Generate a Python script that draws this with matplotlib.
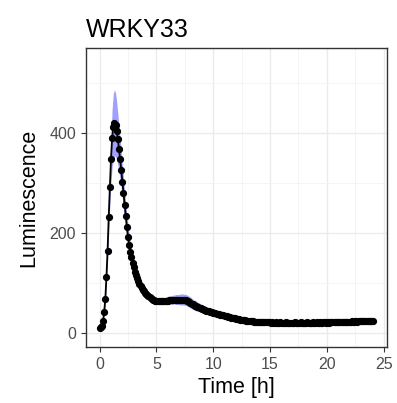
import numpy as np
import matplotlib.pyplot as plt
from matplotlib.ticker import MultipleLocator

plt.rcParams['font.family'] = ['Liberation Sans', 'DejaVu Sans']

# time grid: one reading every 0.1 h, 0 .. 24.1 h
time_h = np.round(np.arange(0, 242) * 0.1, 1)

# mean luminescence (one value per 0.1 h)
lum_mean = [
    11, 12, 15, 24, 42, 68, 112, 165, 232, 292,            # 0.0 - 0.9
    348, 390, 412, 420, 417, 405, 388, 369, 348, 327,      # 1.0 - 1.9
    303, 280, 257, 234, 212, 192, 176, 163, 152, 141,      # 2.0 - 2.9
    132, 123, 116, 110, 104, 99, 95, 91, 87, 84,           # 3.0 - 3.9
    81, 78, 76, 74, 72, 70, 68, 67, 66, 65,                # 4.0 - 4.9
    65, 64, 64, 64, 64, 64, 64, 64, 65, 65,                # 5.0 - 5.9
    65, 66, 66, 66, 66, 67, 67, 67, 67, 67,                # 6.0 - 6.9
    67, 67, 67, 67, 67, 66, 66, 65, 64, 62,                # 7.0 - 7.9
    61, 59, 58, 56, 55, 54, 53, 52, 51, 50,                # 8.0 - 8.9
    49, 48, 47, 46, 45, 44, 44, 43, 42, 42,                # 9.0 - 9.9
    41, 40, 40, 39, 38, 38, 37, 37, 36, 36,                # 10.0 - 10.9
    35, 34, 34, 33, 33, 32, 31, 31, 30, 30,                # 11.0 - 11.9
    29, 29, 28, 28, 27, 27, 26, 26, 26, 25,                # 12.0 - 12.9
    25, 25, 24, 24, 24, 24, 23, 23, 23, 23,                # 13.0 - 13.9
    23, 23, 22, 22, 23, 22, 22, 22, 22, 22,                # 14.0 - 14.9
    22, 21, 22, 21, 21, 22, 21, 21, 21, 22,                # 15.0 - 15.9
    21, 21, 21, 21, 22, 21, 21, 21, 21, 21,                # 16.0 - 16.9
    21, 21, 22, 21, 21, 21, 21, 22, 21, 21,                # 17.0 - 17.9
    21, 21, 21, 22, 21, 21, 21, 21, 22, 21,                # 18.0 - 18.9
    21, 22, 21, 21, 22, 21, 21, 22, 22, 21,                # 19.0 - 19.9
    22, 22, 21, 22, 22, 22, 22, 22, 23, 22,                # 20.0 - 20.9
    22, 23, 22, 23, 23, 22, 23, 23, 23, 23,                # 21.0 - 21.9
    23, 23, 24, 23, 23, 24, 24, 23, 24, 24,                # 22.0 - 22.9
    24, 24, 25, 24, 24, 24, 25, 24, 24, 24,                # 23.0 - 23.9
    24, 24,                                                 # 24.0 - 24.1
]

# spread of the shaded band around the mean
lum_sd = [
    2, 2, 3, 4, 6, 9, 14, 20, 28, 36,
    46, 58, 66, 66, 64, 58, 52, 46, 41, 37,
    34, 31, 28, 26, 24, 22, 20, 18, 16, 14,
    12, 11, 10, 9, 8, 7, 6, 6, 5, 5,
    5, 5, 5, 5, 5, 5, 5, 5, 5, 5,
    5, 5, 5, 5, 5, 5, 6, 6, 7, 7,
    7, 8, 8, 8, 9, 9, 9, 10, 10, 10,
    10, 11, 11, 11, 11, 11, 11, 11, 11, 11,
    11, 11, 10, 10, 10, 10, 9, 9, 9, 8,
    8, 7, 7, 7, 6, 6, 5, 5, 5, 4,
    4, 4, 4, 4, 4, 3, 3, 3, 3, 3,
    3, 3, 3, 3, 3, 3, 3, 3, 3, 3,
] + [2] * 122

lum_mean = np.array(lum_mean, dtype=float)
lum_sd = np.array(lum_sd, dtype=float)

fig = plt.figure(figsize=(3.97, 4.03), dpi=100, facecolor="white")
ax = fig.add_axes([86 / 397, 56 / 403, 301 / 397, 299 / 403])

ax.fill_between(time_h, lum_mean - lum_sd, lum_mean + lum_sd,
                color="#9090ff", alpha=0.85, lw=0, zorder=2)
ax.plot(time_h, lum_mean, color="black", lw=1.3, zorder=3)
ax.plot(time_h, lum_mean, "o", color="black", ms=4.2, zorder=4)

ax.set_xlim(-1.2, 25.3)
ax.set_ylim(-28, 570)
ax.xaxis.set_major_locator(MultipleLocator(5))
ax.xaxis.set_minor_locator(MultipleLocator(2.5))
ax.yaxis.set_major_locator(MultipleLocator(200))
ax.yaxis.set_minor_locator(MultipleLocator(100))

ax.grid(which="major", color="#ebebeb", lw=1.0, zorder=0)
ax.grid(which="minor", color="#f3f3f3", lw=0.6, zorder=0)
ax.set_axisbelow(True)
for spine in ax.spines.values():
    spine.set_color("#333333")
    spine.set_linewidth(1.0)

ax.tick_params(which="major", length=3.6, width=0.8, color="#333333",
               labelcolor="#4d4d4d", labelsize=11.5, pad=3.5)
ax.tick_params(which="minor", length=0)

ax.set_xlabel("Time [h]", fontsize=15.5, color="black", labelpad=4)
ax.set_ylabel("Luminescence", fontsize=15.5, color="black", labelpad=7)
ax.set_title("WRKY33", fontsize=18, loc="left", pad=8, x=0)

fig.savefig("out.png", dpi=100, facecolor="white")
